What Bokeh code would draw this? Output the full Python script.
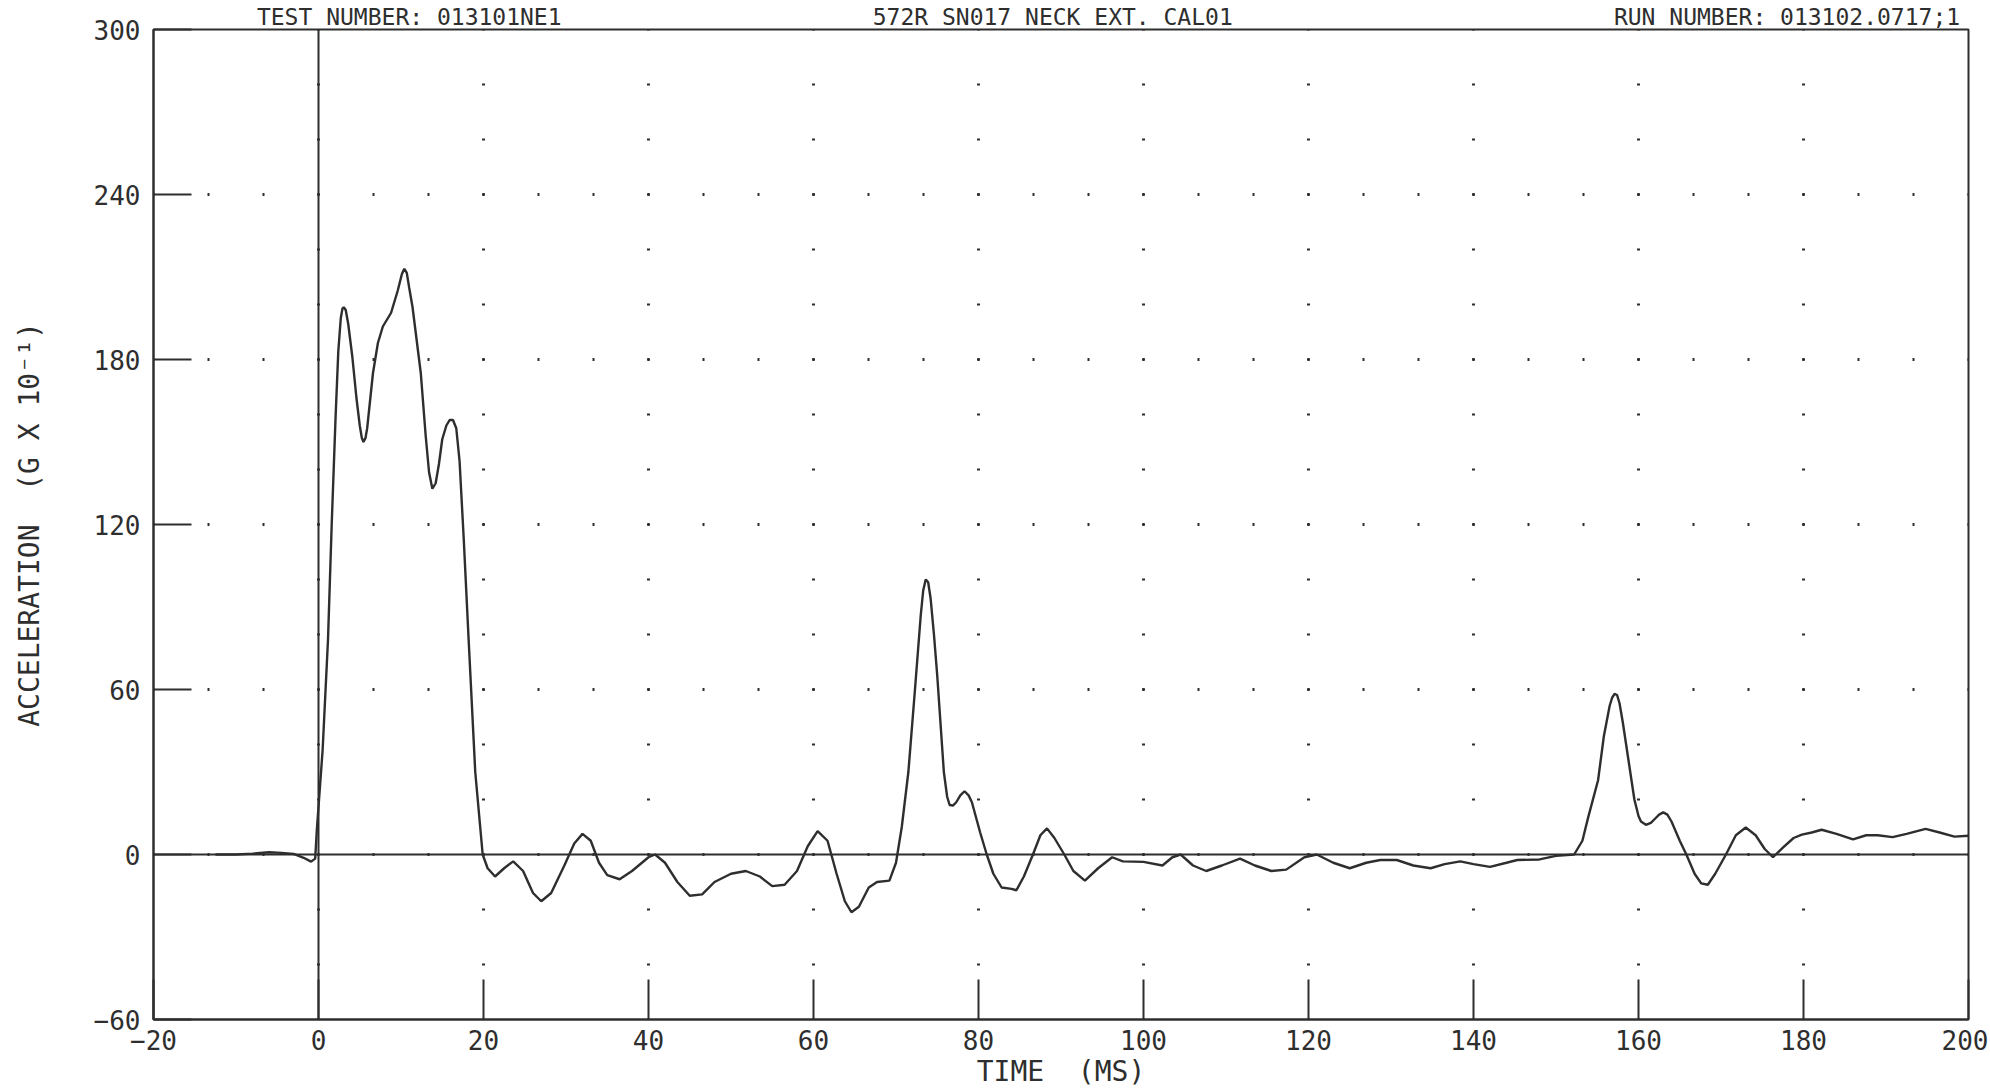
from bokeh.plotting import figure
from bokeh.models import FixedTicker, Span, Range1d, LinearAxis
from bokeh.embed import file_html
from bokeh.resources import INLINE

# ---- data (time in ms, acceleration in G x 10^-1) ----
time_ms = [
    -12.5, -10.0, -8.0, -6.0, -4.5, -3.0, -1.8, -0.9, -0.4,
    -0.2, 0.5, 1.15, 1.6, 2.07, 2.4, 2.7, 2.9, 3.06, 3.3, 3.6, 4.1, 4.6, 5.0,
    5.25, 5.45, 5.7, 5.9, 6.6, 7.2, 7.8, 8.8, 9.6, 10.1, 10.4, 10.7, 11.0,
    11.4, 12.4, 13.0, 13.4, 13.8, 14.2, 14.6, 15.0, 15.5, 15.9, 16.3, 16.7,
    17.1, 17.6, 18.2, 19.0, 19.9,
    20.5, 21.4, 22.5, 23.6, 24.8, 26.0, 27.0, 28.2, 29.8, 31.0, 32.0, 33.0,
    34.0, 35.0, 36.5, 38.0, 40.0, 40.8, 42.0, 43.5, 45.0, 46.5, 48.0, 50.0,
    51.8, 53.5, 55.0, 56.5, 58.0, 59.3, 60.5, 61.7, 62.8, 63.8, 64.6, 65.5,
    66.7, 67.7, 69.2, 70.0, 70.7, 71.5, 72.3, 73.0, 73.3, 73.6, 73.9, 74.2,
    74.6, 75.0, 75.8, 76.2, 76.5, 76.9, 77.3, 77.8, 78.3, 78.8, 79.2, 80.2,
    81.0, 81.8, 82.8, 84.0, 84.6, 85.5, 86.6, 87.5, 88.3, 89.2, 90.4, 91.5,
    92.9, 94.5, 96.2, 97.5, 100.0, 102.3, 103.5, 104.5, 106.0, 107.6, 109.5,
    111.7, 113.5, 115.5, 117.3, 119.5, 121.0, 123.0, 125.0, 127.0, 128.7,
    130.7, 132.7, 134.8, 136.5, 138.4, 140.0, 142.0, 144.0, 145.3, 148.0,
    150.0, 152.2, 153.2, 153.9, 155.1, 155.8, 156.5, 156.8, 157.1, 157.4,
    157.7, 158.1, 158.5, 159.5, 160.0, 160.3, 160.9, 161.5, 162.0, 162.5,
    163.0, 163.5, 164.0, 165.0, 165.8, 166.8, 167.6, 168.4, 169.3, 170.6,
    171.8, 173.0, 174.2, 175.3, 176.3, 177.5, 178.8, 179.8, 181.0, 182.2,
    184.0, 186.0, 187.6, 189.0, 190.8, 192.5, 194.8, 196.5, 198.3, 200.0,
]
accel = [
    0.0, 0.0, 0.3, 0.8, 0.6, 0.2, -1.2, -2.6, -1.5,
    9.0, 38.0, 78.0, 120.0, 159.0, 183.0, 195.0, 198.5, 199.0, 198.0, 193.0, 181.0, 166.0, 156.0,
    151.5, 150.0, 151.5, 155.0, 175.0, 186.0, 192.0, 197.0, 205.0, 211.0, 213.0, 211.5, 206.0,
    199.0, 175.0, 152.0, 139.0, 133.0, 135.0, 142.0, 151.0, 156.0, 158.0, 158.0, 155.0,
    143.0, 115.0, 78.0, 30.0, 0.0,
    -5.0, -8.0, -5.0, -2.5, -6.0, -14.0, -17.0, -14.0, -4.0, 4.0, 7.5, 5.0,
    -3.0, -7.5, -9.0, -6.0, -1.0, 0.0, -3.0, -10.0, -15.0, -14.5, -10.0, -7.0,
    -6.0, -8.0, -11.5, -11.0, -6.0, 3.0, 8.5, 5.0, -7.0, -17.0, -21.0, -19.0,
    -12.0, -10.0, -9.5, -3.0, 10.0, 30.0, 60.0, 87.0, 96.0, 100.0, 99.0, 93.0,
    80.0, 65.0, 30.0, 21.0, 18.0, 17.8, 19.0, 21.5, 23.0, 21.5, 19.0, 8.0,
    0.0, -7.0, -12.0, -12.5, -13.0, -8.0, 0.0, 7.0, 9.5, 6.0, 0.0, -6.0,
    -9.5, -5.0, -1.0, -2.5, -2.7, -4.0, -1.0, 0.0, -4.0, -6.0, -4.0,
    -1.5, -4.0, -6.0, -5.5, -1.0, 0.0, -3.0, -5.0, -3.0, -2.0,
    -2.0, -4.0, -5.0, -3.5, -2.5, -3.5, -4.5, -3.0, -2.0, -1.8,
    -0.5, 0.0, 5.0, 13.5, 27.0, 43.0, 54.0, 57.0, 58.4, 58.0,
    55.0, 48.0, 40.0, 20.0, 14.0, 12.0, 10.8, 11.5, 13.0, 14.5,
    15.3, 14.5, 12.0, 5.0, 0.0, -7.0, -10.5, -11.0, -7.0, 0.0,
    7.0, 9.8, 7.0, 2.0, -1.0, 2.5, 6.0, 7.2, 8.0, 9.0,
    7.5, 5.5, 7.0, 7.0, 6.3, 7.5, 9.3, 8.0, 6.5, 6.8,
]

x_ticks = [-20, 0, 20, 40, 60, 80, 100, 120, 140, 160, 180, 200]
y_ticks = [-60, 0, 60, 120, 180, 240, 300]

x_label = "TIME\u00a0 (MS)"
y_label = "ACCELERATION\u00a0 (G X 10\u207b\u00b9)"
header_texts = ["TEST NUMBER: 013101NE1", "572R SN017 NECK EXT. CAL01",
                "RUN NUMBER: 013102.0717;1"]
header_at_ms = [11, 89, 178]          # where each header line is centred

FONT = "DejaVu Sans Mono"
INK = "#2e2e2e"

p = figure(
    frame_width=1815, frame_height=990,
    x_range=Range1d(-20, 200), y_range=Range1d(-60, 300),
    output_backend="svg", toolbar_location=None,
    min_border_left=153, min_border_right=20,
    min_border_top=20, min_border_bottom=60,
    background_fill_color="white", border_fill_color="white",
)
p.outline_line_color = INK
p.outline_line_width = 2

# axes: ticks drawn inward, plotter style
for ax, ticks, tin in ((p.xaxis[0], x_ticks, 40), (p.yaxis[0], y_ticks, 38)):
    ax.ticker = FixedTicker(ticks=ticks, minor_ticks=[])
    ax.major_tick_in = tin
    ax.major_tick_out = 0
    ax.minor_tick_in = 0
    ax.minor_tick_out = 0
    ax.major_tick_line_color = INK
    ax.major_tick_line_width = 2
    ax.axis_line_color = INK
    ax.axis_line_width = 2
    ax.major_label_text_font = FONT
    ax.major_label_text_font_size = "26px"
    ax.major_label_text_color = INK
    ax.axis_label_text_font = FONT
    ax.axis_label_text_font_size = "28px"
    ax.axis_label_text_font_style = "normal"
    ax.axis_label_text_color = INK

p.xaxis.axis_label = x_label
p.yaxis.axis_label = y_label
p.xaxis.major_label_standoff = 10
p.xaxis.axis_label_standoff = 2
p.yaxis.major_label_standoff = 13
p.yaxis.axis_label_standoff = 45

# header line printed above the frame (an unadorned axis carrying the three texts)
head = LinearAxis(
    ticker=FixedTicker(ticks=header_at_ms, minor_ticks=[]),
    major_label_overrides={k: t for k, t in zip(header_at_ms, header_texts)},
    major_tick_in=0, major_tick_out=0, minor_tick_in=0, minor_tick_out=0,
    axis_line_alpha=0, major_label_standoff=0,
    major_label_text_font=FONT, major_label_text_font_size="23px",
    major_label_text_color=INK,
)
p.add_layout(head, "above")

# dotted lattice grid (dot every 6.67 ms along rows, every 20 units along columns)
for g in (p.xgrid[0], p.ygrid[0]):
    g.grid_line_color = INK
    g.grid_line_width = 3
    g.grid_line_dash = "2 53"
    g.grid_line_dash_offset = 1

# solid zero reference lines
p.add_layout(Span(location=0, dimension="width", line_color=INK, line_width=2))
p.add_layout(Span(location=0, dimension="height", line_color=INK, line_width=2))

# the trace
p.line(time_ms, accel, line_color=INK, line_width=2.4)

open("out.html", "w").write(file_html(p, INLINE))
